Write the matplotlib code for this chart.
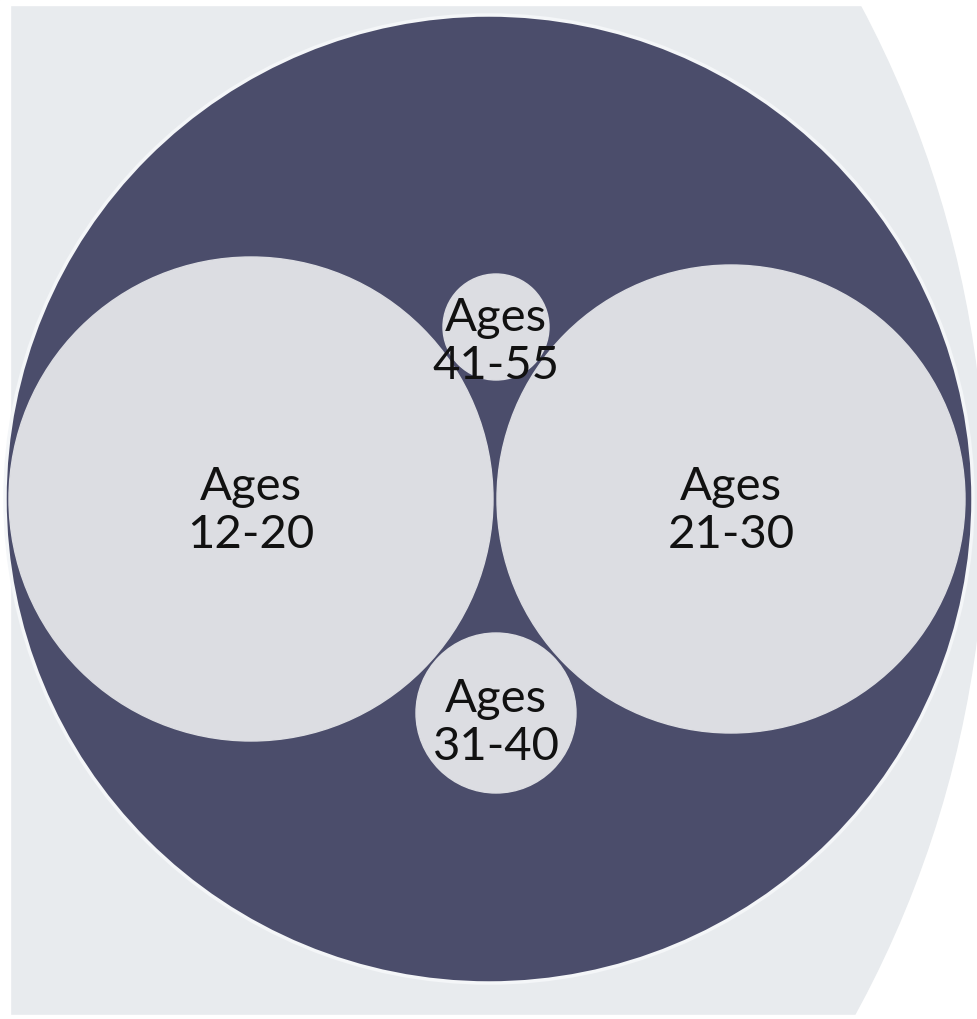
import matplotlib.pyplot as plt
from matplotlib.patches import Circle

# age groups and their circle size (radius in px of the packed layout)
groups = ["Ages\n12-20", "Ages\n21-30", "Ages\n41-55", "Ages\n31-40"]
radius = [242, 234, 53, 80]
cx = [251, 731, 496, 496]
cy = [499, 499, 327, 713]

fig = plt.figure(figsize=(9.78, 10.19), dpi=100)
ax = fig.add_axes([0, 0, 1, 1])
ax.set_xlim(0, 978)
ax.set_ylim(1019, 0)
ax.set_aspect('equal')
ax.axis('off')

# outer background circle (only part of it shows)
ax.add_patch(Circle((-77, 505), 1062, color='#e8ebee', zorder=0))
ax.add_patch(plt.Rectangle((0, 0), 10, 1019, color='white', zorder=0.5))
ax.add_patch(plt.Rectangle((0, 0), 978, 5, color='white', zorder=0.5))
ax.add_patch(plt.Rectangle((0, 1015), 978, 5, color='white', zorder=0.5))

# parent circle
ax.add_patch(Circle((489, 499), 484, facecolor='#4b4d6b', edgecolor='#f4f6f8', lw=2.5, zorder=1))

offs = [12, 12, 15, 10]
for lab, r, x, y, o in zip(groups, radius, cx, cy, offs):
    ax.add_patch(Circle((x, y), r, color='#dcdde2', zorder=2))
    ax.text(x, y + o, lab, ha='center', va='center', fontsize=34, family='Lato',
            color='#111111', linespacing=1.2, zorder=3)

fig.savefig('out.png', dpi=100)
